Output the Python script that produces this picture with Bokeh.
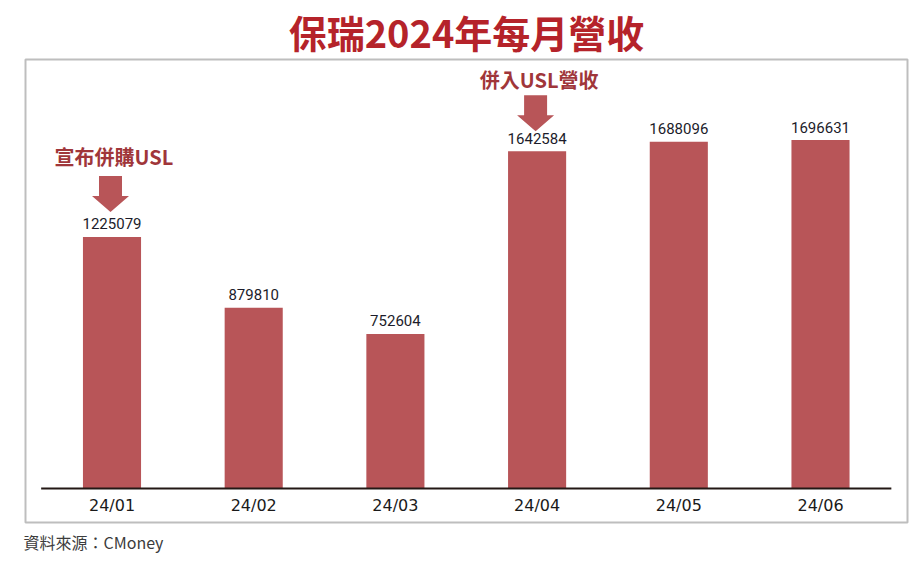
from bokeh.plotting import figure
from bokeh.models import Range1d
from bokeh.core.properties import value
from bokeh.embed import file_html
from bokeh.resources import INLINE

# ---- data ----
months = ["24/01", "24/02", "24/03", "24/04", "24/05", "24/06"]
revenue = [1225079, 879810, 752604, 1642584, 1688096, 1696631]
title_text = "保瑞2024年每月營收"
source_text = "資料來源：CMoney"
notes = ["宣布併購USL", "併入USL營收"]
note_months = ["24/01", "24/04"]

# ---- layout constants (pixels) ----
W, H = 912, 557
BOX_L, BOX_R, BOX_T, BOX_B = 25, 907, 59, 522
BASE_Y = 488          # pixel row of the zero line
CAT0_X = 111.5        # pixel column of first category
CAT_STEP = 141.7      # pixels per category
VPP = 4870.0          # revenue units per pixel


def xd(px):
    return (px - CAT0_X) / CAT_STEP


def yd(py):
    return (BASE_Y - py) * VPP


DX = 1.0 / CAT_STEP
DY = VPP

BAR_COLOR = "#B85558"
NOTE_COLOR = "#A0363A"
TITLE_COLOR = "#B5232A"

p = figure(width=W, height=H, x_range=Range1d(xd(0), xd(W)), y_range=Range1d(yd(H), yd(0)),
           output_backend="svg", toolbar_location=None,
           x_axis_location=None, y_axis_location=None,
           min_border_left=0, min_border_right=0, min_border_top=0, min_border_bottom=0)
p.grid.visible = False
p.outline_line_color = None
p.background_fill_color = "white"
p.border_fill_color = "white"

idx = list(range(len(months)))

# frame box
p.quad(left=[xd(BOX_L)], right=[xd(BOX_R)], bottom=[yd(BOX_B)], top=[yd(BOX_T)],
       fill_color=None, line_color="#BEBEBE", line_width=2)

# bars
p.vbar(x=idx, top=revenue, bottom=0, width=0.41, fill_color=BAR_COLOR, line_color=None)

# baseline
p.segment(x0=[idx[0] - 0.5], y0=[0], x1=[idx[-1] + 0.5], y1=[0], line_color="#231815", line_width=2)

# value labels
p.text(x=idx, y=[v + 13 * DY for v in revenue], text=[str(v) for v in revenue],
       text_align="center", text_baseline="alphabetic",
       text_font=value("Roboto"), text_font_size="15px", text_color="#1C1C2A")

# category labels
p.text(x=idx, y=[-17 * DY] * len(idx), text=months,
       text_align="center", text_baseline="alphabetic",
       text_font=value("DejaVu Sans"), text_font_size="16px", text_color="#1A1A1A")

# annotations with arrows
tip_px = [25, 20]
text_px = [80, 72]
sw, hw, hl, sl = 11.5, 18.5, 16, 20
axs, ays, tx, ty = [], [], [], []
for k, m in enumerate(note_months):
    i = months.index(m)
    cx = i - 1.5 * DX
    tip = revenue[i] + tip_px[k] * DY
    axs.append([cx - sw * DX, cx + sw * DX, cx + sw * DX, cx + hw * DX, cx,
                cx - hw * DX, cx - sw * DX])
    ays.append([tip + (hl + sl) * DY, tip + (hl + sl) * DY, tip + hl * DY, tip + hl * DY, tip,
                tip + hl * DY, tip + hl * DY])
    tx.append(i + 2 * DX)
    ty.append(revenue[i] + text_px[k] * DY)
p.patches(xs=axs, ys=ays, fill_color=BAR_COLOR, line_color=None)
p.text(x=tx, y=ty, text=notes, text_align="center", text_baseline="middle",
       text_font=value("Noto Sans CJK TC"), text_font_style="bold",
       text_font_size="20px", text_color=NOTE_COLOR)

# title
p.text(x=[(xd(BOX_L) + xd(BOX_R)) / 2], y=[yd(31)], text=[title_text],
       text_align="center", text_baseline="middle",
       text_font=value("Noto Sans CJK TC"), text_font_style="bold",
       text_font_size="38px", text_color=TITLE_COLOR)

# source
p.text(x=[xd(23)], y=[yd(541)], text=[source_text],
       text_align="left", text_baseline="middle",
       text_font=value("Noto Sans CJK TC"), text_font_size="16px", text_color="#3C3C3C")

open("out.html", "w").write(file_html(p, INLINE))
